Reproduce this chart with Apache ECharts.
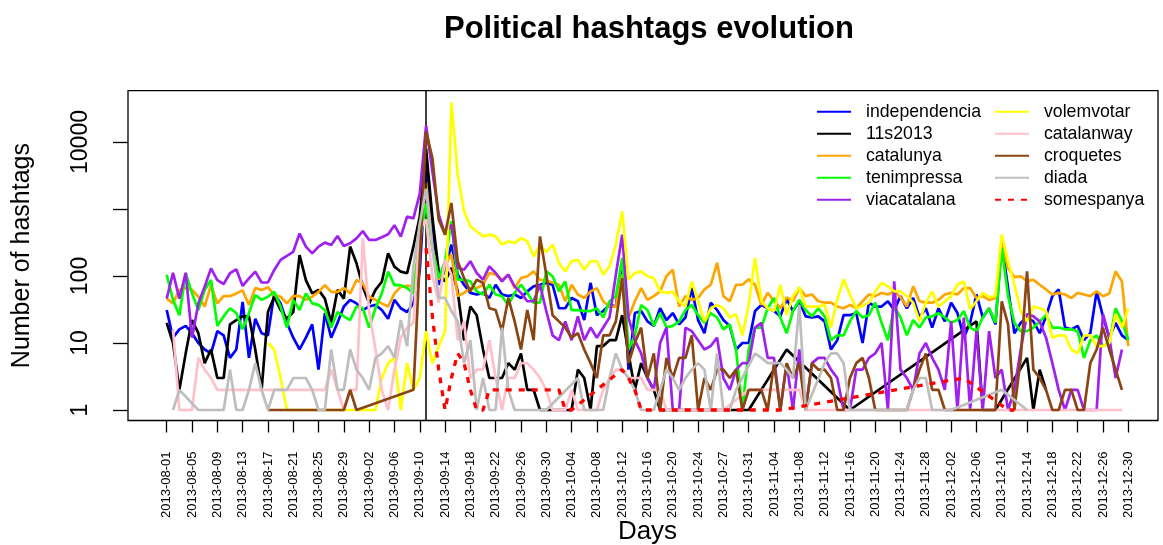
<!DOCTYPE html>
<html>
<head>
<meta charset="utf-8">
<title>Political hashtags evolution</title>
<script src="https://cdn.jsdelivr.net/npm/echarts@6/dist/echarts.min.js"></script>
<style>
  html, body { margin: 0; padding: 0; background: #ffffff; }
  #chart { width: 1163px; height: 545px; }
</style>
</head>
<body>
<div id="chart"></div>
<script>
// Daily hashtag counts, one value per day starting 2013-08-01 (index 0).
// null = no record for that day (the line is drawn straight across it).
const tickLabels = [
  '2013-08-01','2013-08-05','2013-08-09','2013-08-13','2013-08-17','2013-08-21','2013-08-25','2013-08-29',
  '2013-09-02','2013-09-06','2013-09-10','2013-09-14','2013-09-18','2013-09-22','2013-09-26','2013-09-30',
  '2013-10-04','2013-10-08','2013-10-12','2013-10-16','2013-10-20','2013-10-24','2013-10-27','2013-10-31',
  '2013-11-04','2013-11-08','2013-11-12','2013-11-16','2013-11-20','2013-11-24','2013-11-28',
  '2013-12-02','2013-12-06','2013-12-10','2013-12-14','2013-12-18','2013-12-22','2013-12-26','2013-12-30'
];
const diadaDay = 41; // 2013-09-11

const independencia = [
  31,12,16,18,14,10,8,7,15,13,
  6,8,41,6,23,14,13,55,39,20,
  12,8,12,19,4,28,12,20,35,44,
  39,31,35,37,31,23,44,33,29,39,
  120,4500,465,74,124,295,105,74,56,53,
  56,47,74,53,50,53,47,59,70,74,
  79,74,33,33,47,42,22,79,26,30,
  37,35,170,4,28,30,21,18,33,22,
  28,19,24,66,22,14,40,31,22,18,
  8,10,10,30,37,33,30,25,45,30,
  42,25,24,25,21,8,11,26,26,28,
  10,40,35,35,42,31,50,33,47,24,
  33,17,33,21,40,28,12,20,53,24,
  33,19,310,66,14,20,24,21,14,25,
  50,63,17,16,18,11,14,59,25,12,
  20,13,11
];
const s11s2013 = [
  20,10,2,7,22,14,5,8,3,3,
  19,22,25,25,8,2,29,49,31,23,
  29,205,87,55,62,46,20,62,46,275,
  155,69,39,62,82,218,138,116,110,275,
  770,8000,740,117,83,132,59,11,35,26,
  8,3,3,3,5,4,7,2,2,1,
  1,1,1,1,1,4,3,1,9,9,
  11,11,26,7,2,5,3,2,1,1,
  1,1,1,1,1,1,1,1,1,1,
  1,1,1,null,null,null,null,null,8,null,
  null,null,null,null,null,null,null,null,1,null,
  null,null,null,null,null,null,null,null,null,null,
  null,null,null,null,null,null,null,null,21,1,
  1,1,null,null,null,null,6,1,4,2,
  null,null,null,null,null,null,null,null,null,null,
  null,null,null
];
const catalunya = [
  46,39,62,66,62,49,35,73,39,50,
  50,55,61,37,66,62,68,52,49,39,
  50,50,44,49,58,73,58,58,66,55,
  87,78,49,44,39,35,55,69,71,70,
  300,2500,265,88,148,210,50,56,66,66,
  74,111,105,88,105,66,93,99,117,88,
  85,80,74,42,74,53,47,59,66,42,
  35,35,105,24,42,66,44,50,59,100,
  124,35,50,44,47,63,74,157,50,42,
  74,74,89,74,37,56,42,33,48,42,
  66,50,53,42,40,40,35,33,37,33,
  42,53,50,56,53,59,48,35,70,42,
  40,40,44,53,56,53,66,66,47,50,
  44,47,295,132,96,99,83,88,74,63,
  53,56,53,47,56,53,50,59,50,55,
  117,83,9
];
const tenimpressa = [
  104,44,26,110,55,31,62,87,18,25,
  33,28,16,28,52,44,49,58,35,17,
  44,31,55,39,37,31,17,29,25,22,
  35,33,17,33,55,116,73,73,66,55,
  346,1200,260,93,166,660,88,88,83,59,
  53,74,53,50,37,56,74,56,40,40,
  117,99,59,83,31,31,30,30,33,24,
  42,50,186,8,13,37,31,18,28,17,
  18,21,31,37,26,20,28,24,16,19,
  8,1,8,17,17,33,47,24,14,30,
  44,31,25,33,25,11,13,13,21,30,
  24,26,40,20,11,35,24,13,22,17,
  24,25,28,24,20,22,30,17,15,24,
  33,20,262,50,20,15,15,17,21,26,
  17,17,16,16,15,6,11,13,9,10,
  33,21,11
];
const viacatalana = [
  46,112,46,112,12,39,69,130,87,76,
  110,126,71,92,116,80,80,123,174,200,
  230,430,274,218,274,315,290,395,280,308,
  365,468,345,345,378,420,573,386,770,725,
  1700,17500,3600,825,415,585,132,124,166,111,
  88,139,111,83,105,70,56,42,42,74,
  30,13,11,21,11,25,11,17,12,17,
  24,105,414,24,11,7,3,2,10,17,
  1,1,17,15,11,8,9,12,3,2,
  4,5,5,17,20,6,6,1,5,1,
  8,1,5,6,6,4,3,1,1,4,
  4,6,7,10,1,83,4,3,2,7,
  10,6,4,2,21,1,24,1,15,1,
  15,3,4,1,2,8,27,25,21,12,
  5,2,1,2,2,1,1,1,27,12,
  3,8,null
];
const volemvotar = [
  null,null,null,null,null,null,null,null,null,null,
  null,null,null,null,null,null,10,8,3,1,
  1,1,1,1,1,1,1,1,1,1,
  1,1,1,1,3,5,6,1,5,2,
  3,15,5,9,15,39000,3250,925,550,465,
  390,415,390,295,330,310,370,330,196,295,
  228,295,156,117,166,175,124,166,166,105,
  139,295,925,89,111,117,99,93,59,56,
  58,42,35,83,42,21,33,37,33,24,
  27,13,37,186,42,33,30,74,26,50,
  68,35,35,35,37,17,45,89,53,33,
  36,40,59,79,70,59,59,50,40,21,
  40,59,35,42,50,74,83,32,42,56,
  48,50,415,166,74,30,21,35,33,30,
  12,13,13,8,7,13,13,9,9,10,
  27,17,33
];
const catalanway = [
  null,16,1,1,1,6,4,3,2,2,
  2,2,2,2,2,2,2,2,2,2,
  2,2,2,2,2,2,4,2,1,2,
  2,365,30,8,2,1,4,12,17,20,
  490,700,100,40,175,105,11,21,3,4,
  4,11,3,1,3,3,5,5,4,3,
  2,1,1,1,2,1,1,1,1,2,
  3,4,4,3,3,3,2,2,2,1,
  1,1,1,1,1,1,1,1,1,null,
  null,null,2,2,2,2,2,2,2,2,
  2,1,1,1,1,1,1,1,1,1,
  1,1,1,1,1,1,1,1,1,1,
  1,1,1,1,1,1,1,1,1,1,
  1,1,1,1,1,1,1,1,1,1,
  1,1,1,1,1,1,1,1,1,1,
  1,1,null
];
const croquetes = [
  null,null,null,null,null,null,null,null,null,null,
  null,null,null,null,null,null,1,1,1,1,
  1,1,1,1,1,1,1,1,1,2,
  1,null,null,null,null,null,null,null,null,2,
  null,14400,5750,690,415,1230,166,93,59,88,
  79,33,31,15,47,21,8,31,11,390,
  105,26,21,17,12,14,8,5,3,13,
  13,21,93,5,10,17,3,7,1,6,
  3,6,6,13,1,3,2,4,4,3,
  4,1,2,2,2,1,5,1,5,3,
  5,1,5,4,4,3,1,1,3,5,
  6,3,1,1,1,1,1,1,2,4,
  7,2,2,1,1,1,1,1,1,1,
  1,1,42,19,1,6,117,4,3,2,
  1,1,2,2,1,1,5,8,17,8,
  4,2,null
];
const diada = [
  null,1,2,null,null,1,1,1,1,1,
  4,1,1,2,5,2,1,2,2,2,
  3,3,3,2,1,1,8,2,2,8,
  4,3,2,6,7,9,6,22,9,137,
  610,2000,260,47,47,30,21,5,11,1,
  3,1,1,17,2,1,1,1,1,1,
  1,null,null,null,null,3,1,1,1,1,
  3,7,4,3,2,1,1,1,2,4,
  3,2,3,4,5,4,1,7,1,1,
  2,null,null,7,6,5,5,5,4,3,
  37,1,null,null,5,7,7,5,1,1,
  1,1,1,1,1,1,1,1,2,3,
  3,1,1,1,1,null,null,null,null,null,
  null,null,2,null,null,null,1,null,null,null,
  null,null,null,null,null,null,null,null,null,null,
  null,null,null
];
const somespanya = [
  null,null,null,null,null,null,null,null,null,null,
  null,null,null,null,null,null,null,null,null,null,
  null,null,null,null,null,null,null,null,null,null,
  null,null,null,null,null,null,null,null,null,null,
  null,260,25,4,1,3,7,5,2,1,
  1,2,2,2,2,2,2,2,2,2,
  2,2,2,1,1,null,null,null,null,null,
  null,null,4,3,2,1,1,1,1,1,
  1,1,1,1,1,1,1,1,1,1,
  1,1,1,1,1,1,1,1,null,null,
  null,null,null,null,null,null,null,null,null,null,
  null,null,null,null,null,null,null,null,null,null,
  null,null,null,null,null,null,3,null,null,null,
  null,null,null,1,1,null,null,null,null,null,
  null,null,null,null,null,null,null,null,null,null,
  null,null,null
];

const FONT = '"Liberation Sans", Arial, Helvetica, sans-serif';
const tickPositions = tickLabels.map((_, i) => i * 4);

const seriesDefs = [
  { name: 'independencia', data: independencia, color: '#0000FF' },
  { name: '11s2013',       data: s11s2013,      color: '#000000' },
  { name: 'catalunya',     data: catalunya,     color: '#FFA500' },
  { name: 'tenimpressa',   data: tenimpressa,   color: '#00FF00' },
  { name: 'viacatalana',   data: viacatalana,   color: '#A020F0' },
  { name: 'volemvotar',    data: volemvotar,    color: '#FFFF00' },
  { name: 'catalanway',    data: catalanway,    color: '#FFC0CB' },
  { name: 'croquetes',     data: croquetes,     color: '#8B4513' },
  { name: 'diada',         data: diada,         color: '#BEBEBE' },
  { name: 'somespanya',    data: somespanya,    color: '#FF0000', dashed: true }
];

const series = seriesDefs.map((d, k) => ({
  name: d.name,
  type: 'line',
  data: d.data.map((v, i) => [i, v]),
  connectNulls: true,
  symbol: 'none',
  smooth: false,
  z: 2 + k,
  itemStyle: { color: d.color },
  lineStyle: d.dashed
    ? { color: d.color, width: 3.3, type: [6, 7], cap: 'butt' }
    : { color: d.color, width: 2.7 },
  emphasis: { disabled: true }
}));

// Vertical reference line on the Diada day
series[0].markLine = {
  silent: true,
  symbol: ['none', 'none'],
  label: { show: false },
  lineStyle: { color: '#000000', type: 'solid', width: 1.5 },
  data: [{ xAxis: diadaDay }]
};

const legendBase = {
  orient: 'vertical',
  top: 100.7,
  padding: 0,
  itemWidth: 34,
  itemHeight: 14,
  itemGap: 0,
  selectedMode: false,
  itemStyle: { color: 'transparent', borderColor: 'transparent', borderWidth: 0, opacity: 0 },
  textStyle: { fontFamily: FONT, fontSize: 17.7, color: '#000000', lineHeight: 22, padding: [0, 0, 0, 10] }
};

const chart = echarts.init(document.getElementById('chart'), null, { renderer: 'canvas' });
chart.setOption({
  animation: false,
  backgroundColor: '#ffffff',
  textStyle: { fontFamily: FONT },
  title: {
    text: 'Political hashtags evolution',
    left: 444,
    top: 14,
    padding: 0,
    textStyle: { fontFamily: FONT, fontSize: 31, fontWeight: 'bold', color: '#000000' }
  },
  legend: [
    Object.assign({}, legendBase, { left: 816, data: seriesDefs.slice(0, 5).map(d => d.name) }),
    Object.assign({}, legendBase, { left: 994, data: seriesDefs.slice(5).map(d => d.name) })
  ],
  grid: {
    left: 128, top: 90.7, width: 1030, height: 329.8,
    containLabel: false,
    outerBoundsMode: 'none',
    show: true, borderColor: '#000000', borderWidth: 1.3, backgroundColor: 'transparent'
  },
  xAxis: {
    type: 'value',
    min: -6.12,
    max: 156.7,
    axisLine: { show: false, onZero: false },
    splitLine: { show: false },
    axisTick: { show: true, customValues: tickPositions, length: 12, lineStyle: { color: '#000000', width: 1.3 } },
    axisLabel: {
      customValues: tickPositions,
      rotate: 90,
      margin: 31,
      fontSize: 13,
      color: '#000000',
      fontFamily: FONT,
      formatter: v => tickLabels[Math.round(v / 4)]
    },
    name: 'Days',
    nameLocation: 'middle',
    nameGap: 98,
    nameMoveOverlap: false,
    nameTextStyle: { fontSize: 26, color: '#000000', fontFamily: FONT, padding: [0, 0, 0, 9] }
  },
  yAxis: {
    type: 'log',
    logBase: 10,
    min: Math.pow(10, -0.157),
    max: Math.pow(10, 4.766),
    axisLine: { show: false, onZero: false },
    splitLine: { show: false },
    minorTick: { show: false },
    axisTick: { show: true, customValues: [1, 10, 100, 1000, 10000], length: 15, lineStyle: { color: '#000000', width: 1.3 } },
    axisLabel: {
      customValues: [1, 10, 100, 10000],
      rotate: 90,
      margin: 36,
      fontSize: 23,
      color: '#000000',
      fontFamily: FONT,
      formatter: v => String(Math.round(v))
    },
    name: 'Number of hashtags',
    nameLocation: 'middle',
    nameGap: 93,
    nameMoveOverlap: false,
    nameTextStyle: { fontSize: 25, color: '#000000', fontFamily: FONT }
  },
  series: series
});
</script>
</body>
</html>
